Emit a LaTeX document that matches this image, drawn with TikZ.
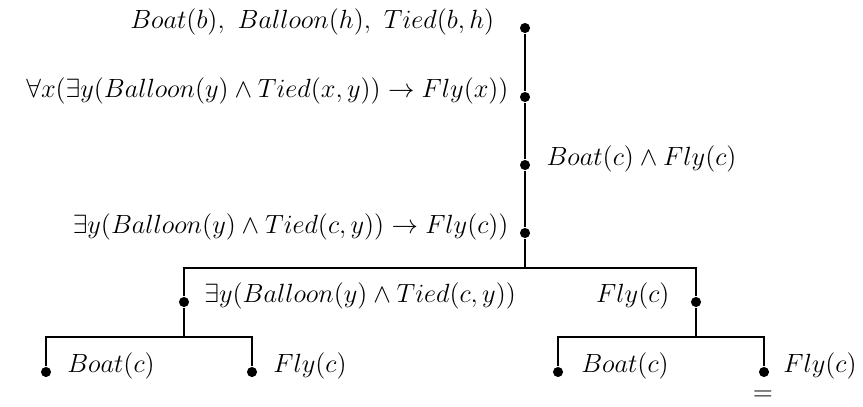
\documentclass[tikz,border=0pt]{standalone}
\usepackage{amsmath,amssymb}
\usepackage{tikz}
\usetikzlibrary{positioning, calc}

\begin{document}
\begin{tikzpicture}[x=0.016cm, y=-0.016cm, line width=0.7pt]
        \tikzstyle{dot} = [circle, fill=black, inner sep=0pt, minimum size=4.6pt]
        \tikzstyle{formula} = [inner sep=0pt, font=\fontsize{12}{14}\selectfont]
        \useasboundingbox (0,0) rectangle (863,406);

        % main trunk
        \node (d1) [dot] at (525,28) {};
        \node (d2) [dot] at (525,97) {};
        \node (d3) [dot] at (525,165) {};
        \node (d4) [dot] at (525,233) {};
        \coordinate (s1) at (525,268);

        % first split
        \node (d5) [dot] at (184,302) {};
        \node (d6) [dot] at (696,302) {};
        \coordinate (s2) at (184,337);
        \coordinate (s3) at (696,337);

        % leaves
        \node (d7) [dot] at (46,372) {};
        \node (d8) [dot] at (252,372) {};
        \node (d9) [dot] at (558,372) {};
        \node (d10) [dot] at (764,372) {};

        \draw (d1) -- (d2) -- (d3) -- (d4) -- (s1);
        \draw (d5) |- (s1) -| (d6);
        \draw (d5) -- (s2);
        \draw (d7) |- (s2) -| (d8);
        \draw (d6) -- (s3);
        \draw (d9) |- (s3) -| (d10);

        % formulas
        \node (f1) [formula, left=11pt of d1, anchor=base east] {$Boat(b),\ Balloon(h),\ Tied(b,h)$};
        \node (f2) [formula, left=4.5pt of d2, anchor=base east] {$\forall x(\exists y(Balloon(y)\wedge Tied(x,y))\to Fly(x))$};
        \node (f3) [formula, right=6.8pt of d3, anchor=base west] {$Boat(c)\wedge Fly(c)$};
        \node (f4) [formula, left=4.5pt of d4, anchor=base east] {$\exists y(Balloon(y)\wedge Tied(c,y))\to Fly(c))$};
        \node (f5) [formula, right=6.3pt of d5, anchor=base west] {$\exists y(Balloon(y)\wedge Tied(c,y))$};
        \node (f6) [formula, left=9.1pt of d6, anchor=base east] {$Fly(c)$};
        \node (f7) [formula, right=6.7pt of d7, anchor=base west] {$Boat(c)$};
        \node (f8) [formula, right=6.7pt of d8, anchor=base west] {$Fly(c)$};
        \node (f9) [formula, right=7.6pt of d9, anchor=base west] {$Boat(c)$};
        \node (f10) [formula, right=5.8pt of d10, anchor=base west] {$Fly(c)$};
        \node (eq) [formula] at (763,396) {$=$};
    \end{tikzpicture}
\end{document}
